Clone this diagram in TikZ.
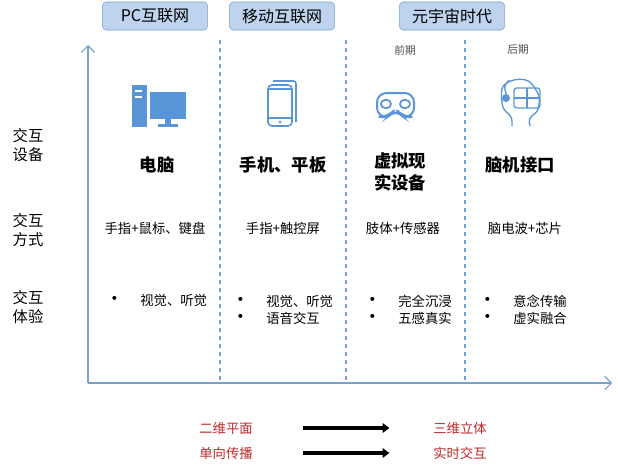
\documentclass[tikz,border=0pt]{standalone}
\usepackage{fontspec}
\setmainfont{Noto Sans CJK SC}
\usetikzlibrary{arrows.meta}
\begin{document}
\begin{tikzpicture}[x=0.75pt,y=-0.75pt]

\definecolor{axisblue}{RGB}{120,160,205}
\definecolor{iconblue}{RGB}{90,150,215}
\definecolor{headfill}{RGB}{190,212,238}
\definecolor{redtext}{RGB}{190,40,40}

\tikzset{
  era/.style={rectangle,rounded corners=3pt,draw=axisblue,fill=headfill,minimum width=79pt,minimum height=21pt,font=\fontsize{12}{14}\selectfont},
  device/.style={font=\fontsize{13}{16}\selectfont\bfseries,align=center},
  rowlabel/.style={font=\fontsize{11.5}{14}\selectfont,align=center},
  cell/.style={font=\fontsize{10}{13}\selectfont},
  phase/.style={font=\fontsize{8}{10}\selectfont,text=black!70},
  change/.style={font=\fontsize{10}{12}\selectfont,text=redtext},
  divider/.style={axisblue,dashed,thick},
  bigarrow/.style={-{Triangle[length=5pt,width=7pt]},line width=3.5pt}
}
\newcommand{\bul}{{\fontsize{14}{13}\selectfont•}\hspace{12pt}}

\useasboundingbox (0,0) rectangle (618,471);

% axes
\coordinate (origin) at (88,383);
\coordinate (ytop) at (88,45);
\coordinate (xend) at (612,383);
\draw[axisblue,thick,-{Straight Barb[length=5pt]}] (origin) -- (ytop);
\draw[axisblue,thick,-{Straight Barb[length=5pt]}] (origin) -- (xend);

% dividers
\foreach \x/\name in {220/d1,346/d2,465/d3}{
  \coordinate (\name top) at (\x,40);
  \coordinate (\name bot) at (\x,383);
  \draw[divider] (\name top) -- (\name bot);
}

% eras
\node[era] (pc) at (155,16) {PC互联网};
\node[era] (mobile) at (282,16) {移动互联网};
\node[era] (meta) at (452,16) {元宇宙时代};
\node[phase] (early) at (405,50) {前期};
\node[phase] (late) at (518,50) {后期};

% row labels
\node[rowlabel] (devlabel) at (28,145) {交互\\设备};
\node[rowlabel] (waylabel) at (28,230) {交互\\方式};
\node[rowlabel] (explabel) at (28,307) {交互\\体验};

% icons
\fill[iconblue] (132,85) rectangle (147,127);
\fill[white] (135,90) rectangle (142,92);
\fill[white] (135,96) rectangle (142,98);
\fill[iconblue] (150,92) rectangle (186,119);
\fill[iconblue] (165,119) rectangle (171,124);
\fill[iconblue] (158,124) rectangle (178,127);
\draw[iconblue,line width=1.2pt,rounded corners=2pt] (273,81) -- (296,81) -- (296,122);
\draw[iconblue,line width=1.2pt,fill=white,rounded corners=3pt] (268,85) rectangle (292,126);
\draw[iconblue,line width=1pt] (268,89) -- (292,89) (268,118) -- (292,118);
\fill[iconblue] (280,122) circle (1.3);
\draw[iconblue,line width=1.5pt,rounded corners=7pt] (377,93) -- (414,93) -- (414,117) -- (403,117) -- (395.5,109) -- (388,117) -- (377,117) -- cycle;
\draw[iconblue,line width=1.3pt,rounded corners=3pt] (381,100) rectangle (391,108) (400,100) rectangle (410,108);
\draw[iconblue,line width=1pt,rounded corners=4pt] (512,126) -- (512,116) -- (503,110) -- (501,95) .. controls (503,80) and (525,75) .. (535,88) -- (540,97) -- (538,112) -- (528,118) -- (530,126);
\draw[iconblue,line width=1pt,rounded corners=2pt] (514,88) rectangle (540,108);
\draw[iconblue,line width=1pt] (514,98) -- (540,98) (527,88) -- (527,108);
\fill[iconblue] (506,98) circle (4);
\draw[iconblue,line width=1pt] (509,80) .. controls (504,86) .. (506,94);

% devices
\node[device] (pcdev) at (157,165) {电脑};
\node[device] (phonedev) at (283,165) {手机、平板};
\node[device] (vrdev) at (400,172) {虚拟现\\实设备};
\node[device] (bcidev) at (520,165) {脑机接口};

% ways
\node[cell] (pcway) at (155,228) {手指+鼠标、键盘};
\node[cell] (phoneway) at (283,228) {手指+触控屏};
\node[cell] (vrway) at (403,228) {肢体+传感器};
\node[cell] (bciway) at (525,228) {脑电波+芯片};

% experience
\node[cell,anchor=west] (pcexp) at (101,300) {\bul 视觉、听觉};
\node[cell,anchor=west,align=left] (phoneexp) at (227,310) {\bul 视觉、听觉\\\bul 语音交互};
\node[cell,anchor=west,align=left] (vrexp) at (359,310) {\bul 完全沉浸\\\bul 五感真实};
\node[cell,anchor=west,align=left] (bciexp) at (474,310) {\bul 意念传输\\\bul 虚实融合};

% bottom
\node[change] (flat) at (226,428) {二维平面};
\node[change] (solid) at (460,428) {三维立体};
\node[change] (oneway) at (226,453) {单向传播};
\node[change] (realtime) at (460,453) {实时交互};
\draw[bigarrow] (flat.east) ++(46,0) coordinate (a1) -- ++(86,0) coordinate (b1);
\draw[bigarrow] (oneway.east) ++(46,0) coordinate (a2) -- ++(86,0) coordinate (b2);

\end{tikzpicture}
\end{document}
